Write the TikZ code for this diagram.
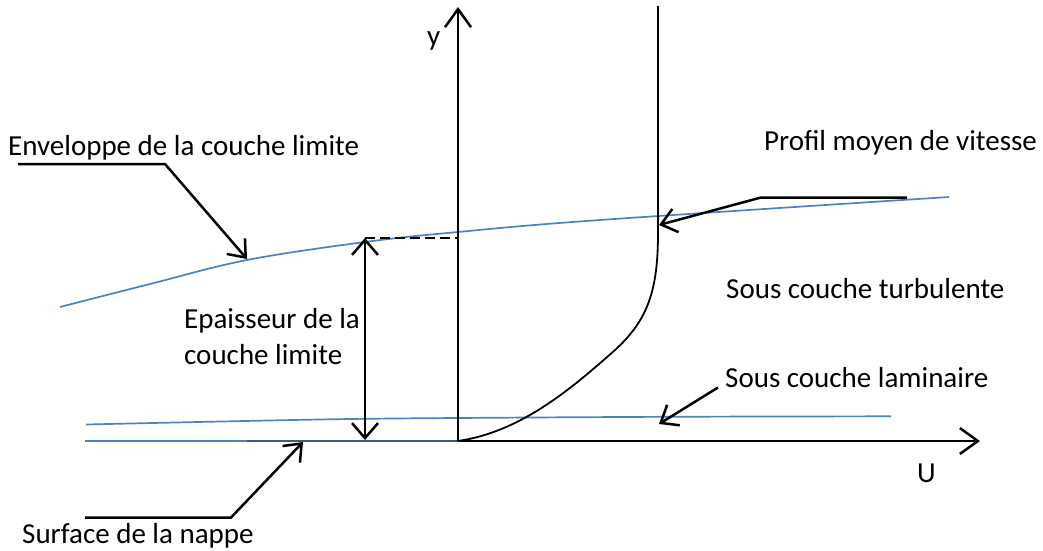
\documentclass[tikz,border=0pt]{standalone}
\usepackage{fontspec}
\setmainfont{Carlito}
\usetikzlibrary{arrows.meta}
\definecolor{offblue}{RGB}{79,129,189}
\definecolor{darkblue}{RGB}{60,90,130}
\tikzset{
  lbl/.style={anchor=base west, inner sep=0pt, font=\fontsize{29pt}{34pt}\selectfont},
  axis/.style={line width=2.5pt, -{Straight Barb[length=18pt,width=26pt,line width=2.5pt]}},
  leader/.style={line width=2.5pt, -{Straight Barb[length=15pt,width=24pt,line width=2.5pt]}},
  bluel/.style={offblue, line width=1.7pt},
}
\begin{document}
\begin{tikzpicture}[x=1pt,y=-1pt]
\useasboundingbox (0,0) rectangle (1043,550);
% coordinates
\coordinate (O) at (458,441);
\coordinate (ytip) at (458,7);
\coordinate (utip) at (980,441);
\coordinate (ptop) at (658,6);
\coordinate (pknee) at (658,233);
\coordinate (dtop) at (365,238);
\coordinate (dbot) at (365,440);
% blue lines
\draw[bluel] plot[smooth, tension=0.6] coordinates {(60,307) (150,284) (247,260) (365,242) (458,232) (600,220) (949,197)};
\draw[bluel] plot[smooth] coordinates {(86,424.5) (330,419.3) (500,417.7) (690,416.7) (891,416.3)};
\draw[bluel] (85,441) -- (O);
\draw[darkblue, line width=2.2pt] (247,441) -- (O);
% axes
\draw[axis] (O) -- (ytip);
\draw[axis] (O) -- (utip);
% velocity profile
\draw[line width=1.8pt] (ptop) -- (pknee) .. controls (658,290) and (648,320) .. (615,350) .. controls (570,390) and (520,432) .. (O);
% thickness
\draw[line width=2.5pt, dashed, dash pattern=on 10pt off 5pt] (dtop) -- (458,238);
\draw[line width=2.5pt, {Straight Barb[length=15pt,width=26pt,line width=2.5pt]}-{Straight Barb[length=15pt,width=26pt,line width=2.5pt]}] (dtop) -- (dbot);
% labels
\node[lbl] (yl) at (427,45) {y};
\node[lbl] (ul) at (917,482) {U};
\node[lbl] (env) at (8,155) {Enveloppe de la couche limite};
\node[lbl] (prof) at (764,150) {Profil moyen de vitesse};
\node[lbl] (turb) at (726,298) {Sous couche turbulente};
\node[lbl] (lam) at (725,387) {Sous couche laminaire};
\node[lbl] (surf) at (22,543) {Surface de la nappe};
\node[lbl] (ep1) at (184,328) {Epaisseur de la};
\node[lbl] (ep2) at (184,364) {couche limite};
% leaders
\coordinate (e0) at (18,164);
\coordinate (e1) at (165,164);
\coordinate (etip) at (247,259);
\draw[leader] (e0) -- (e1) -- (etip);
\coordinate (p0) at (907,197.5);
\coordinate (p1) at (761,197.5);
\coordinate (ptip) at (659,225);
\draw[leader] (p0) -- (p1) -- (ptip);
\coordinate (l0) at (718,387.5);
\coordinate (ltip) at (659,424);
\draw[leader] (l0) -- (ltip);
\coordinate (s0) at (85,517.5);
\coordinate (s1) at (231,517.5);
\coordinate (stip) at (303,442);
\draw[leader] (s0) -- (s1) -- (stip);
\end{tikzpicture}
\end{document}
